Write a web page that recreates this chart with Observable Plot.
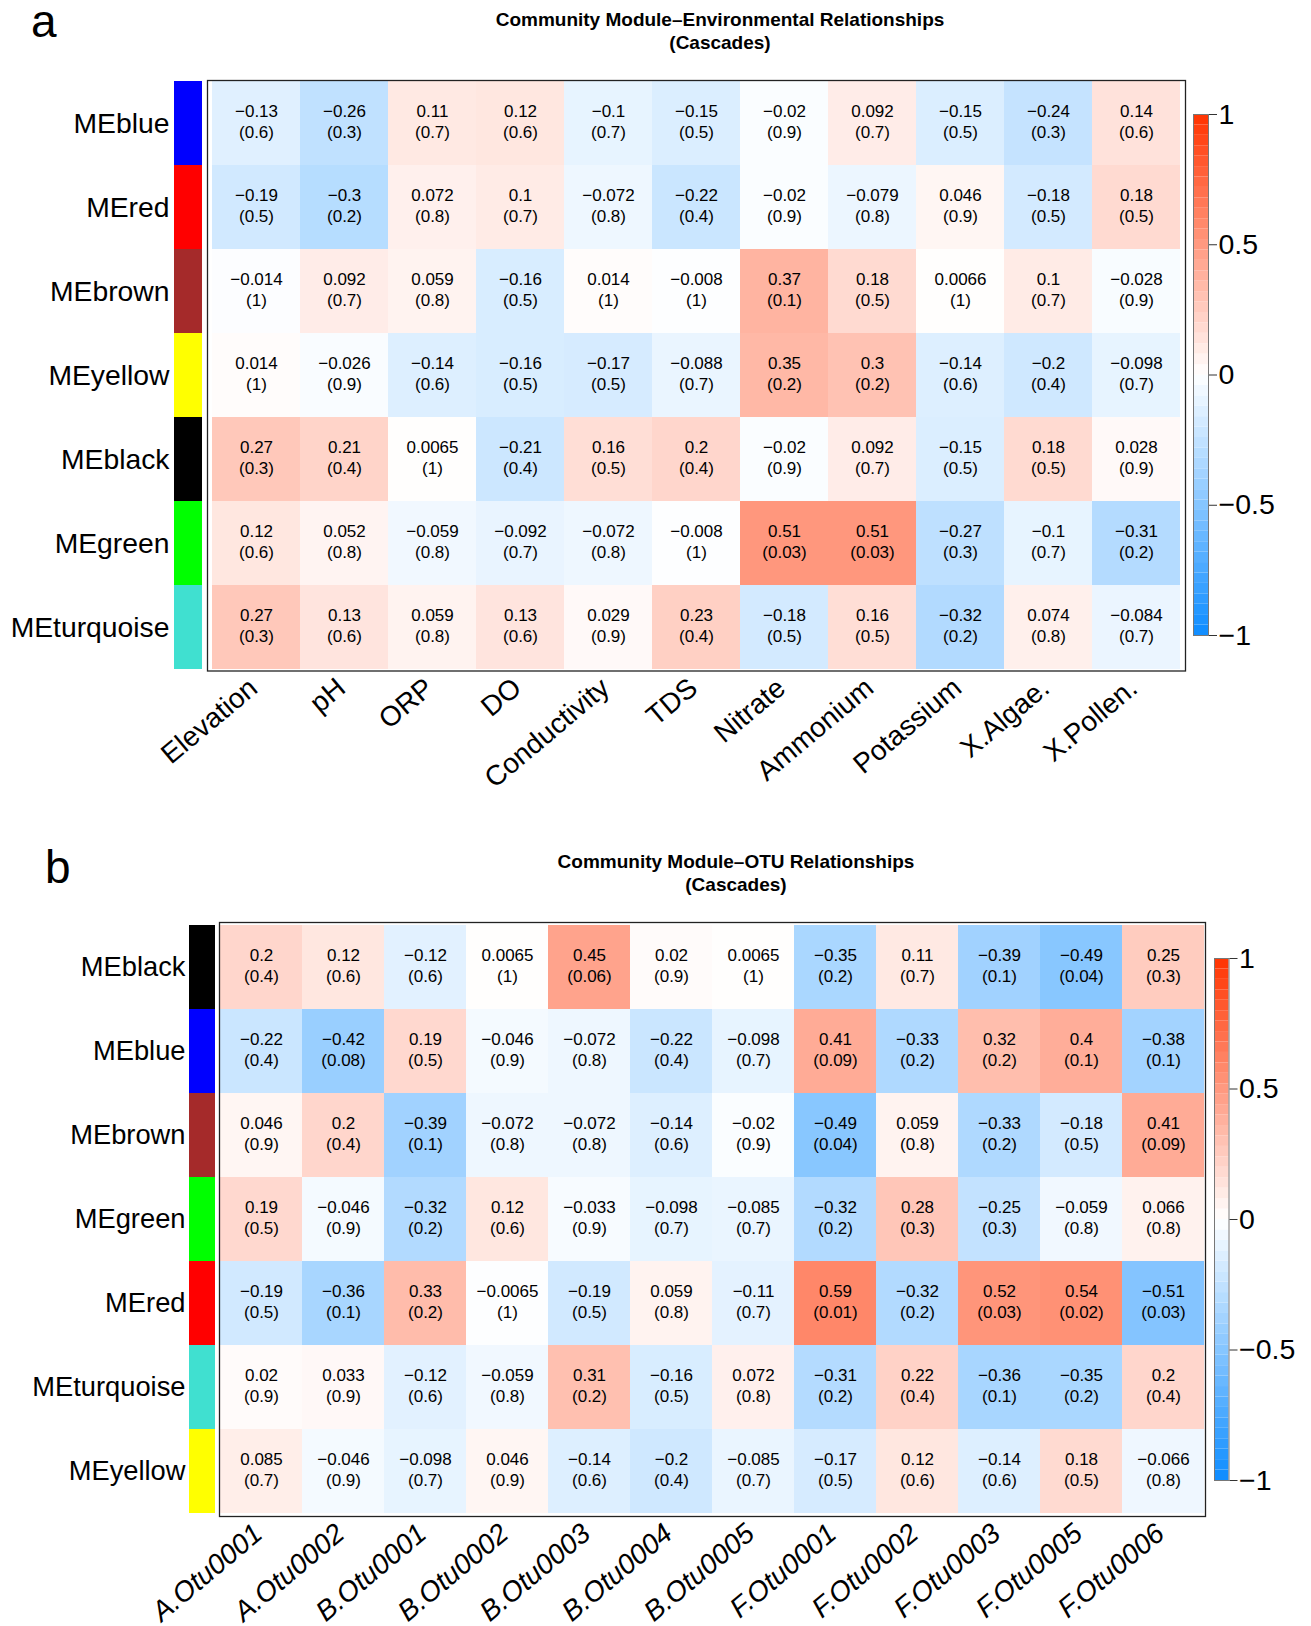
<!DOCTYPE html>
<html>
<head>
<meta charset="utf-8">
<script src="https://cdn.jsdelivr.net/npm/d3@7"></script>
<script src="https://cdn.jsdelivr.net/npm/@observablehq/plot@0.6"></script>
<style>
  html, body { margin: 0; padding: 0; background: #fff; }
  #root { position: relative; width: 1311px; height: 1626px; background: #fff;
          font-family: "Liberation Sans", Arial, Helvetica, sans-serif; overflow: hidden; }
  .title { position: absolute; transform: translateX(-50%); text-align: center; font-weight: bold;
           font-size: 19px; line-height: 22.5px; white-space: nowrap; color: #000; }
  .panel { position: absolute; font-size: 46px; line-height: 40px; color: #000; }
</style>
</head>
<body>
<div id="root"></div>
<script>
// ---------------- DATA ----------------
// Panel a: module–environment correlations
const modulesA = ["MEblue", "MEred", "MEbrown", "MEyellow", "MEblack", "MEgreen", "MEturquoise"];
const moduleColorsA = ["#0000FF", "#FF0000", "#A52A2A", "#FFFF00", "#000000", "#00FF00", "#40E0D0"];
const envVars = ["Elevation", "pH", "ORP", "DO", "Conductivity", "TDS", "Nitrate", "Ammonium", "Potassium", "X.Algae.", "X.Pollen."];
const corA = [
  [-0.13, -0.26, 0.11, 0.12, -0.1, -0.15, -0.02, 0.092, -0.15, -0.24, 0.14],
  [-0.19, -0.3, 0.072, 0.1, -0.072, -0.22, -0.02, -0.079, 0.046, -0.18, 0.18],
  [-0.014, 0.092, 0.059, -0.16, 0.014, -0.008, 0.37, 0.18, 0.0066, 0.1, -0.028],
  [0.014, -0.026, -0.14, -0.16, -0.17, -0.088, 0.35, 0.3, -0.14, -0.2, -0.098],
  [0.27, 0.21, 0.0065, -0.21, 0.16, 0.2, -0.02, 0.092, -0.15, 0.18, 0.028],
  [0.12, 0.052, -0.059, -0.092, -0.072, -0.008, 0.51, 0.51, -0.27, -0.1, -0.31],
  [0.27, 0.13, 0.059, 0.13, 0.029, 0.23, -0.18, 0.16, -0.32, 0.074, -0.084]
];
const pA = [
  [0.6, 0.3, 0.7, 0.6, 0.7, 0.5, 0.9, 0.7, 0.5, 0.3, 0.6],
  [0.5, 0.2, 0.8, 0.7, 0.8, 0.4, 0.9, 0.8, 0.9, 0.5, 0.5],
  [1, 0.7, 0.8, 0.5, 1, 1, 0.1, 0.5, 1, 0.7, 0.9],
  [1, 0.9, 0.6, 0.5, 0.5, 0.7, 0.2, 0.2, 0.6, 0.4, 0.7],
  [0.3, 0.4, 1, 0.4, 0.5, 0.4, 0.9, 0.7, 0.5, 0.5, 0.9],
  [0.6, 0.8, 0.8, 0.7, 0.8, 1, 0.03, 0.03, 0.3, 0.7, 0.2],
  [0.3, 0.6, 0.8, 0.6, 0.9, 0.4, 0.5, 0.5, 0.2, 0.8, 0.7]
];

// Panel b: module–OTU correlations
const modulesB = ["MEblack", "MEblue", "MEbrown", "MEgreen", "MEred", "MEturquoise", "MEyellow"];
const moduleColorsB = ["#000000", "#0000FF", "#A52A2A", "#00FF00", "#FF0000", "#40E0D0", "#FFFF00"];
const otus = ["A.Otu0001", "A.Otu0002", "B.Otu0001", "B.Otu0002", "B.Otu0003", "B.Otu0004", "B.Otu0005", "F.Otu0001", "F.Otu0002", "F.Otu0003", "F.Otu0005", "F.Otu0006"];
const corB = [
  [0.2, 0.12, -0.12, 0.0065, 0.45, 0.02, 0.0065, -0.35, 0.11, -0.39, -0.49, 0.25],
  [-0.22, -0.42, 0.19, -0.046, -0.072, -0.22, -0.098, 0.41, -0.33, 0.32, 0.4, -0.38],
  [0.046, 0.2, -0.39, -0.072, -0.072, -0.14, -0.02, -0.49, 0.059, -0.33, -0.18, 0.41],
  [0.19, -0.046, -0.32, 0.12, -0.033, -0.098, -0.085, -0.32, 0.28, -0.25, -0.059, 0.066],
  [-0.19, -0.36, 0.33, -0.0065, -0.19, 0.059, -0.11, 0.59, -0.32, 0.52, 0.54, -0.51],
  [0.02, 0.033, -0.12, -0.059, 0.31, -0.16, 0.072, -0.31, 0.22, -0.36, -0.35, 0.2],
  [0.085, -0.046, -0.098, 0.046, -0.14, -0.2, -0.085, -0.17, 0.12, -0.14, 0.18, -0.066]
];
const pB = [
  [0.4, 0.6, 0.6, 1, 0.06, 0.9, 1, 0.2, 0.7, 0.1, 0.04, 0.3],
  [0.4, 0.08, 0.5, 0.9, 0.8, 0.4, 0.7, 0.09, 0.2, 0.2, 0.1, 0.1],
  [0.9, 0.4, 0.1, 0.8, 0.8, 0.6, 0.9, 0.04, 0.8, 0.2, 0.5, 0.09],
  [0.5, 0.9, 0.2, 0.6, 0.9, 0.7, 0.7, 0.2, 0.3, 0.3, 0.8, 0.8],
  [0.5, 0.1, 0.2, 1, 0.5, 0.8, 0.7, 0.01, 0.2, 0.03, 0.02, 0.03],
  [0.9, 0.9, 0.6, 0.8, 0.2, 0.5, 0.8, 0.2, 0.4, 0.1, 0.2, 0.4],
  [0.7, 0.9, 0.7, 0.9, 0.6, 0.4, 0.7, 0.5, 0.6, 0.6, 0.5, 0.8]
];
const legendTicks = [-1, -0.5, 0, 0.5, 1];

// ---------------- RENDER ----------------
const FONT = "'Liberation Sans', Arial, Helvetica, sans-serif";
const colorScale = {type: "linear", domain: [-1, 0, 1], range: ["#0D8CFF", "#FFFFFF", "#FF3300"], interpolate: "rgb"};
const fmt = v => String(v).replace("-", "\u2212");
const root = document.getElementById("root");

function place(el, left, top) {
  el.style.position = "absolute";
  el.style.left = left + "px";
  el.style.top = top + "px";
  root.appendChild(el);
}

function panel(cfg) {
  const {rows, rowColors, cols, cor, p, hm, bar, leg, labelFont, colFont, italic, rotate} = cfg;
  const cells = [];
  rows.forEach((r, i) => cols.forEach((c, j) => cells.push({row: r, col: c, r: cor[i][j], p: p[i][j]})));

  // heatmap
  const mL = 80, mB = 160, mR = 10, mT = 5;
  const heat = Plot.plot({
    width: hm.w + mL + mR, height: hm.h + mT + mB,
    marginLeft: mL, marginRight: mR, marginTop: mT, marginBottom: mB,
    style: {background: "transparent", overflow: "visible", fontFamily: FONT},
    x: {domain: cols, padding: 0, label: null},
    y: {domain: rows, padding: 0, label: null, axis: null},
    color: colorScale,
    marks: [
      Plot.cell(cells, {x: "col", y: "row", fill: "r", inset: 0}),
      Plot.text(cells, {x: "col", y: "row", text: d => fmt(d.r) + "\n(" + fmt(d.p) + ")",
        fontSize: 17, lineHeight: 1.29, fill: "#000", dy: -3}),
      Plot.frame({stroke: "#222", strokeWidth: 1.3}),
      Plot.axisX({anchor: "bottom", tickSize: 0, tickPadding: cfg.tickPad, tickRotate: rotate,
        fontSize: colFont, label: null, dx: cfg.tickDx})
    ]
  });
  if (italic) d3.select(heat).selectAll('g[aria-label="x-axis tick label"] text').style("font-style", "italic");
  place(heat, hm.x - mL, hm.y - mT);

  // module colour bar with row labels
  const bL = 200;
  const mod = Plot.plot({
    width: bL + bar.w, height: hm.h,
    marginLeft: bL, marginRight: 0, marginTop: 0, marginBottom: 0,
    style: {background: "transparent", overflow: "visible", fontFamily: FONT},
    x: {domain: ["m"], padding: 0, axis: null},
    y: {domain: rows, padding: 0, label: null, axis: null},
    marks: [
      Plot.cell(rows, {x: () => "m", y: d => d, fill: (d, i) => rowColors[i], inset: 0}),
      Plot.axisY({anchor: "left", tickSize: 0, tickPadding: bar.pad, fontSize: labelFont, label: null, fill: "#000"})
    ]
  });
  place(mod, bar.x - bL, hm.y);

  // colour legend
  const bins = d3.range(50).map(i => ({lo: -1 + i * 0.04, hi: -1 + (i + 1) * 0.04, mid: -1 + (i + 0.5) * 0.04}));
  const lR = 80;
  const lg = Plot.plot({
    width: leg.w + lR, height: leg.h,
    marginLeft: 0, marginRight: lR, marginTop: 0, marginBottom: 0,
    style: {background: "transparent", overflow: "visible", fontFamily: FONT},
    y: {domain: [-1, 1], label: null, axis: null},
    color: colorScale,
    marks: [
      Plot.rect(bins, {y1: "lo", y2: "hi", fill: "mid"}),
      Plot.frame({stroke: "#777", strokeWidth: 1}),
      Plot.axisY({anchor: "right", ticks: legendTicks, tickSize: 8, tickPadding: 2, tickFormat: fmt,
        fontSize: 28.5, label: null, stroke: "#333"})
    ]
  });
  place(lg, leg.x, leg.y);
}

// Titles and panel letters
function addText(cls, html, left, top) {
  const d = document.createElement("div");
  d.className = cls;
  d.innerHTML = html;
  d.style.left = left + "px";
  d.style.top = top + "px";
  root.appendChild(d);
}
addText("panel", "a", 31, 1);
addText("title", "Community Module\u2013Environmental Relationships<br>(Cascades)", 720, 9);
addText("panel", "b", 45, 847);
addText("title", "Community Module\u2013OTU Relationships<br>(Cascades)", 736, 851);

panel({
  rows: modulesA, rowColors: moduleColorsA, cols: envVars, cor: corA, p: pA,
  hm: {x: 206.5, y: 79.5, w: 978, h: 590.5},
  bar: {x: 174, w: 28, pad: 5},
  leg: {x: 1193, y: 114, w: 15, h: 521},
  labelFont: 28.3, colFont: 28, italic: false, rotate: -40, tickPad: 13, tickDx: -3
});
panel({
  rows: modulesB, rowColors: moduleColorsB, cols: otus, cor: corB, p: pB,
  hm: {x: 219, y: 922, w: 986, h: 594},
  bar: {x: 189, w: 26, pad: 4},
  leg: {x: 1213.5, y: 958, w: 14.5, h: 522},
  labelFont: 27.3, colFont: 28, italic: true, rotate: -40, tickPad: 13, tickDx: -3
});
</script>
</body>
</html>
